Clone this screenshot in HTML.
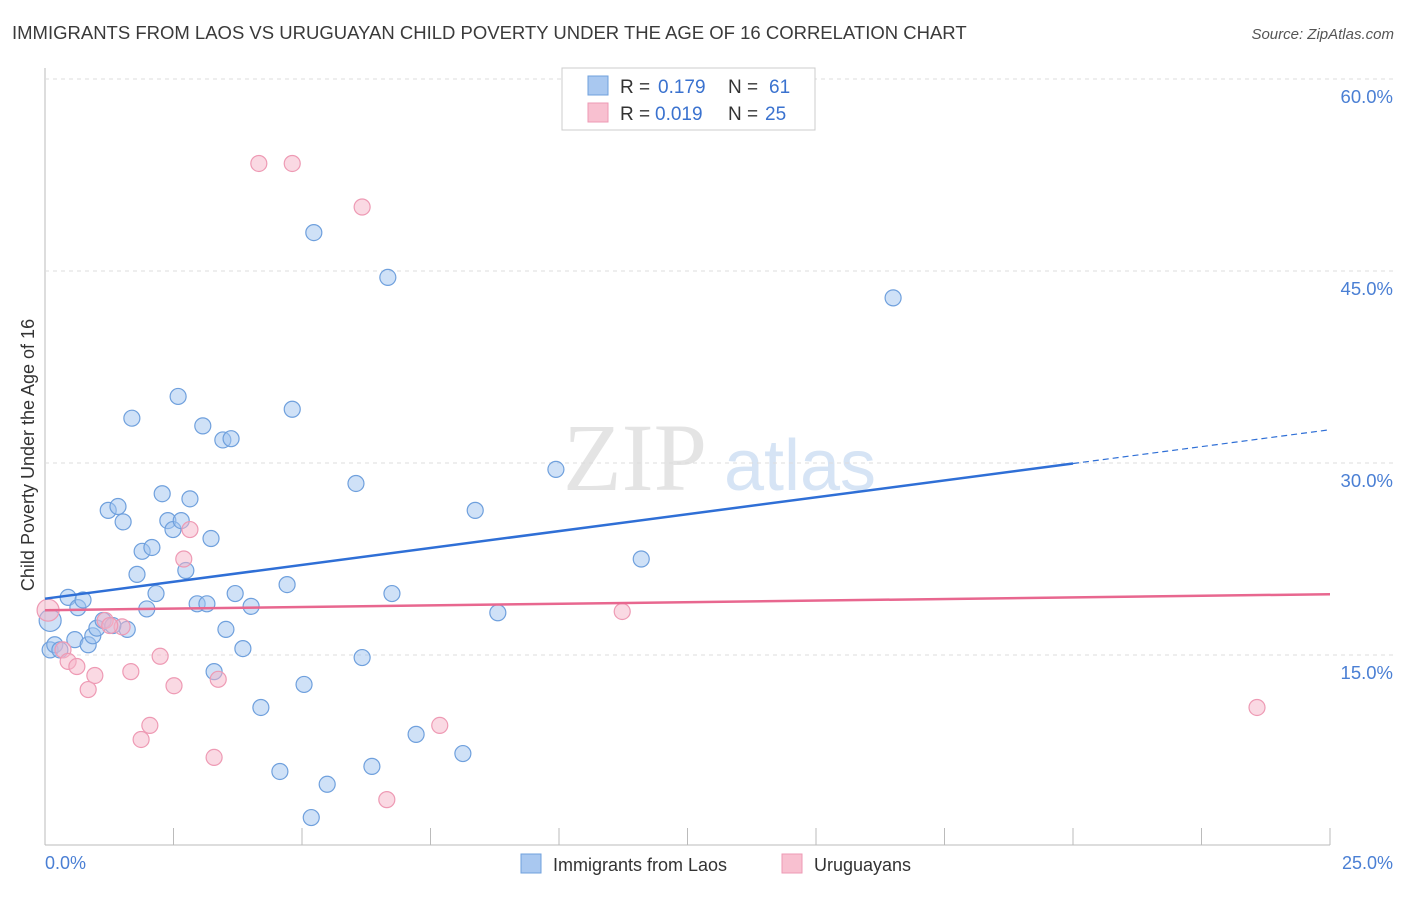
<!DOCTYPE html>
<html><head><meta charset="utf-8"><style>
body{margin:0;background:#fff;font-family:"Liberation Sans",sans-serif;}
#c{position:relative;width:1406px;height:892px;}
</style></head><body>
<div id="c">
<svg id="s" width="1406" height="892">
<text x="12" y="39" font-size="18.5" fill="#3a3a3a">IMMIGRANTS FROM LAOS VS URUGUAYAN CHILD POVERTY UNDER THE AGE OF 16 CORRELATION CHART</text>
<text x="1394" y="39" font-size="15" fill="#555" font-style="italic" text-anchor="end">Source: ZipAtlas.com</text>
<text x="635" y="490" font-size="96" fill="#e4e4e4" font-family="Liberation Serif" text-anchor="middle">ZIP</text>
<text x="800" y="490" font-size="72" fill="#d6e4f5" text-anchor="middle">atlas</text>
<text transform="translate(34,455) rotate(-90)" font-size="18" fill="#333" text-anchor="middle">Child Poverty Under the Age of 16</text>
<text x="45" y="869" font-size="18" fill="#4a7fd4">0.0%</text>
<text x="1393" y="869" font-size="18" fill="#4a7fd4" text-anchor="end">25.0%</text>
<g id="grid"></g><g id="marks"></g>
<g>
<rect x="562" y="68" width="253" height="62" fill="#fff" stroke="#ccc"/>
<rect x="588" y="76" width="20" height="19" fill="#a9c8f0" stroke="#6fa0dd"/>
<rect x="588" y="103" width="20" height="19" fill="#f8c0d0" stroke="#ee9ab4"/>
<text x="620" y="93" font-size="19" fill="#333">R =</text>
<text x="658" y="93" font-size="19" fill="#3a72cf">0.179</text>
<text x="728" y="93" font-size="19" fill="#333">N =</text>
<text x="769" y="93" font-size="19" fill="#3a72cf">61</text>
<text x="620" y="120" font-size="19" fill="#333">R =</text>
<text x="655" y="120" font-size="19" fill="#3a72cf">0.019</text>
<text x="728" y="120" font-size="19" fill="#333">N =</text>
<text x="765" y="120" font-size="19" fill="#3a72cf">25</text>
</g>
<g>
<rect x="521" y="854" width="20" height="19" fill="#a9c8f0" stroke="#6fa0dd"/>
<text x="553" y="871" font-size="18" fill="#333">Immigrants from Laos</text>
<rect x="782" y="854" width="20" height="19" fill="#f8c0d0" stroke="#ee9ab4"/>
<text x="814" y="871" font-size="18" fill="#333">Uruguayans</text>
</g>
</svg></div>
<script>
const blueX=[0.1,0.19,0.29,0.45,0.58,0.64,0.74,0.84,0.93,1.01,1.13,1.23,1.42,1.52,1.6,1.69,1.79,1.89,1.98,2.08,2.16,2.28,2.39,2.49,2.59,2.65,2.74,2.82,2.96,3.07,3.15,3.23,3.29,3.46,3.52,3.62,3.70,3.85,4.01,4.2,4.57,4.71,4.81,5.04,5.18,5.23,5.49,6.05,6.17,6.36,6.67,6.75,7.22,8.13,8.37,8.81,9.94,11.6,16.5,1.32,0.1];
const blueY=[15.4,15.8,15.4,19.5,16.2,18.7,19.3,15.8,16.5,17.1,17.7,26.3,26.6,25.4,17.0,33.5,21.3,23.1,18.6,23.4,19.8,27.6,25.5,24.8,35.2,25.5,21.6,27.2,19.0,32.9,19.0,24.1,13.7,31.8,17.0,31.9,19.8,15.5,18.8,10.9,5.9,20.5,34.2,12.7,2.3,48.0,4.9,28.4,14.8,6.3,44.5,19.8,8.8,7.3,26.3,18.3,29.5,22.5,42.9,17.3,17.7];
const pinkX=[0.06,0.35,0.45,0.62,0.84,0.97,1.17,1.5,1.67,1.87,2.04,2.24,2.51,2.7,2.82,3.29,3.37,4.16,4.81,6.17,6.65,7.68,11.23,23.58,1.26];
const pinkY=[18.5,15.4,14.5,14.1,12.3,13.4,17.7,17.2,13.7,8.4,9.5,14.9,12.6,22.5,24.8,7.0,13.1,53.4,53.4,50.0,3.7,9.5,18.4,10.9,17.3];
const blueTrend=[19.4,32.6];
const pinkTrend=[18.5,19.75];
const yTicks=[15,30,45,60];
const xTicks=[0,2.5,5,7.5,10,12.5,15,17.5,20,22.5,25];
const NS="http://www.w3.org/2000/svg";
const X=v=>45+v*51.4, Y=v=>847-v*12.8;
function mk(t,a,p){const e=document.createElementNS(NS,t);for(const k in a)e.setAttribute(k,a[k]);p.appendChild(e);return e;}
const g=document.getElementById('grid'),m=document.getElementById('marks');
let ax=mk('line',{x1:45,y1:68,x2:45,y2:845,stroke:'#bbb'},g);


let bx=mk('line',{x1:45,y1:845,x2:1330,y2:845,stroke:'#bbb'},g);


yTicks.forEach(t=>{let l=mk('line',{x1:45,x2:1393,y1:Y(t),y2:Y(t),stroke:'#ddd','stroke-dasharray':'4,4'},g);


let tx=mk('text',{x:1393,y:Y(t)+24,'font-size':18.5,fill:'#4a7fd4','text-anchor':'end'},g);tx.textContent=t.toFixed(1)+'%';

});
xTicks.forEach(t=>{let l=mk('line',{x1:X(t),x2:X(t),y1:828,y2:845,stroke:'#bbb'},g);

});
function pts(xs,ys,f,s,n){xs.forEach((x,i)=>{let c=mk('circle',{cx:X(x),cy:Y(ys[i]),r:(i==xs.length-1&&n=='blue-point')||(i==0&&n=='pink-point')?11:8,fill:f,stroke:s,'stroke-width':1.2},m);

});}
pts(blueX,blueY,'rgba(160,196,240,0.5)','#6fa0dd','blue-point');
pts(pinkX,pinkY,'rgba(246,180,200,0.5)','#ee9ab4','pink-point');
const by=x=>blueTrend[0]+(blueTrend[1]-blueTrend[0])*x/25;
let b1=mk('line',{x1:X(0),y1:Y(by(0)),x2:X(20),y2:Y(by(20)),stroke:'#2f6fd6','stroke-width':2.5},m);


let b2=mk('line',{x1:X(20),y1:Y(by(20)),x2:X(25),y2:Y(by(25)),stroke:'#2f6fd6','stroke-width':1.2,'stroke-dasharray':'6,4'},m);


let p1=mk('line',{x1:X(0),y1:Y(pinkTrend[0]),x2:X(25),y2:Y(pinkTrend[1]),stroke:'#e8678f','stroke-width':2.5},m);


</script>
</body></html>
